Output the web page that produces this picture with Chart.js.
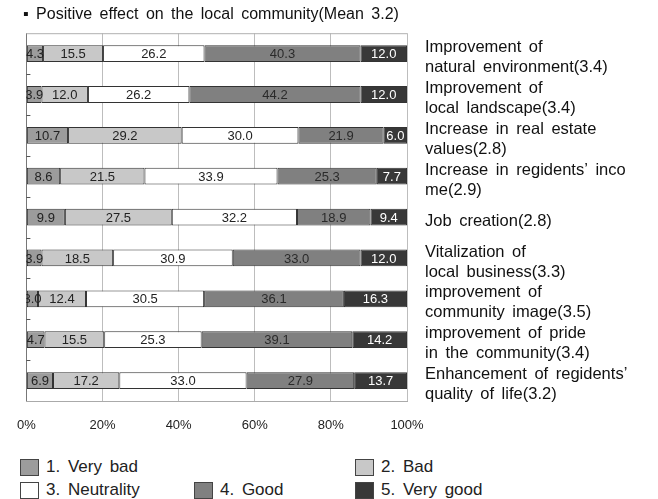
<!DOCTYPE html>
<html>
<head>
<meta charset="utf-8">
<script src="https://cdn.jsdelivr.net/npm/chart.js@4"></script>
<style>
  body { margin: 0; background: #fff; }
  #wrap { position: relative; width: 658px; height: 499px; font-family: "Liberation Sans", Arial, sans-serif; }
  #legend .item { position: absolute; display: flex; align-items: center; font-size: 17px; word-spacing: 3px; color: #222; white-space: nowrap; }
  #legend .box { width: 19px; height: 17px; border: 1px solid #444; box-sizing: border-box; margin-right: 7px; }
</style>
</head>
<body>
<div id="wrap">
  <canvas id="chart" width="658" height="455"></canvas>
  <div id="legend"></div>
</div>
<script>
/* =========================
   DATOS
========================= */
const categories = [
  ['Improvement of', 'natural environment(3.4)'],
  ['Improvement of', 'local landscape(3.4)'],
  ['Increase in real estate', 'values(2.8)'],
  ['Increase in regidents\u2019 inco', 'me(2.9)'],
  ['Job creation(2.8)'],
  ['Vitalization of', 'local business(3.3)'],
  ['improvement of', 'community image(3.5)'],
  ['improvement of pride', 'in the community(3.4)'],
  ['Enhancement of regidents\u2019', 'quality of life(3.2)']
];

const seriesNames = ['1. Very bad', '2. Bad', '3. Neutrality', '4. Good', '5. Very good'];

const veryBad    = [4.3, 3.9, 10.7, 8.6, 9.9, 3.9, 3.0, 4.7, 6.9];
const bad        = [15.5, 12.0, 29.2, 21.5, 27.5, 18.5, 12.4, 15.5, 17.2];
const neutrality = [26.2, 26.2, 30.0, 33.9, 32.2, 30.9, 30.5, 25.3, 33.0];
const good       = [40.3, 44.2, 21.9, 25.3, 18.9, 33.0, 36.1, 39.1, 27.9];
const veryGood   = [12.0, 12.0, 6.0, 7.7, 9.4, 12.0, 16.3, 14.2, 13.7];

const tickValues = [0, 20, 40, 60, 80, 100];
const titleText = '\u25AA Positive effect on the local community(Mean 3.2)';

/* =========================
   ESTILOS
========================= */
const COLORS = ['#9c9c9c', '#c8c8c8', '#ffffff', '#808080', '#383838'];
const LABEL_COLORS = ['#222', '#222', '#222', '#2a2a2a', '#ffffff'];
const FONT = '"Liberation Sans", Arial, sans-serif';

// 100% apilado: cada fila se normaliza a su total
const raw = [veryBad, bad, neutrality, good, veryGood];
const totals = categories.map((_, i) => raw.reduce((s, r) => s + r[i], 0));

const datasets = raw.map((values, d) => ({
  label: seriesNames[d],
  data: values.map((v, i) => v / totals[i] * 100),
  rawValues: values,
  backgroundColor: COLORS[d],
  borderColor: '#333',
  borderWidth: 1,
  borderSkipped: false,
  barPercentage: 0.41,
  categoryPercentage: 1
}));

/* =========================
   PLUGINS
========================= */
const spacing = {
  id: 'spacing',
  beforeDraw(chart) {
    chart.ctx.wordSpacing = '3px';
  }
};

const frame = {
  id: 'frame',
  beforeDatasetsDraw(chart) {
    const { ctx, chartArea: a, scales } = chart;
    ctx.save();
    ctx.strokeStyle = '#b0b0b0';
    ctx.lineWidth = 1;
    ctx.beginPath();
    ctx.moveTo(a.left, a.top + 0.5);
    ctx.lineTo(a.right, a.top + 0.5);
    ctx.stroke();

    // marcas pequeñas a la izquierda entre categorías
    ctx.strokeStyle = '#555';
    const y = scales.y;
    for (let i = 0; i < categories.length - 1; i++) {
      const py = Math.round((y.getPixelForValue(i) + y.getPixelForValue(i + 1)) / 2) + 0.5;
      ctx.beginPath();
      ctx.moveTo(a.left, py);
      ctx.lineTo(a.left + 4, py);
      ctx.stroke();
    }
    ctx.restore();
  }
};

const valueLabels = {
  id: 'valueLabels',
  afterDatasetsDraw(chart) {
    const { ctx, chartArea: a } = chart;
    ctx.save();
    ctx.beginPath();
    ctx.rect(a.left, a.top, a.right - a.left, a.bottom - a.top);
    ctx.clip();
    ctx.font = '13px ' + FONT;
    ctx.textAlign = 'center';
    ctx.textBaseline = 'middle';
    chart.data.datasets.forEach((ds, d) => {
      const meta = chart.getDatasetMeta(d);
      meta.data.forEach((bar, i) => {
        ctx.fillStyle = LABEL_COLORS[d];
        ctx.fillText(ds.rawValues[i].toFixed(1), (bar.x + bar.base) / 2, bar.y + 1);
      });
    });
    ctx.restore();
  }
};

/* =========================
   GRÁFICA
========================= */
const chart = new Chart(document.getElementById('chart'), {
  type: 'bar',
  data: { labels: categories, datasets },
  options: {
    indexAxis: 'y',
    responsive: false,
    animation: false,
    layout: { padding: { left: 23, right: 0, top: 0, bottom: 0 } },
    plugins: {
      legend: { display: false },
      tooltip: { enabled: false },
      title: {
        display: true,
        text: titleText,
        align: 'start',
        color: '#111',
        font: { family: FONT, size: 16, weight: 'normal' },
        padding: { top: 5, bottom: 9 }
      }
    },
    scales: {
      x: {
        stacked: true,
        min: 0,
        max: 100,
        afterBuildTicks: (scale) => { scale.ticks = tickValues.map(v => ({ value: v })); },
        afterFit: (scale) => { scale.height = 54; },
        grid: {
          drawTicks: false,
          color: (c) => c.tick && c.tick.value === 0 ? '#777' : '#bdbdbd',
          lineWidth: 1
        },
        border: { color: '#aaa' },
        ticks: {
          padding: 17,
          color: '#222',
          font: { family: FONT, size: 13 },
          callback: (v) => v + '%'
        }
      },
      y: {
        stacked: true,
        position: 'right',
        afterFit: (scale) => {
          scale.width = 251;
          scale.paddingTop = 0;
          scale.paddingBottom = 0;
        },
        grid: { display: false, drawTicks: false },
        border: { display: false },
        ticks: {
          autoSkip: false,
          padding: 18,
          labelOffset: 4,
          color: '#111',
          font: { family: FONT, size: 16.5, lineHeight: '20px' }
        }
      }
    }
  },
  plugins: [spacing, frame, valueLabels]
});

/* =========================
   LEYENDA (HTML)
========================= */
const legendSlots = [[20, 457], [355, 457], [20, 480], [194, 480], [355, 480]];
const legendEl = document.getElementById('legend');
chart.data.datasets.forEach((ds, d) => {
  const item = document.createElement('div');
  item.className = 'item';
  item.style.left = legendSlots[d][0] + 'px';
  item.style.top = legendSlots[d][1] + 'px';
  const box = document.createElement('span');
  box.className = 'box';
  box.style.background = ds.backgroundColor;
  const txt = document.createElement('span');
  txt.textContent = ds.label;
  item.appendChild(box);
  item.appendChild(txt);
  legendEl.appendChild(item);
});
</script>
</body>
</html>
